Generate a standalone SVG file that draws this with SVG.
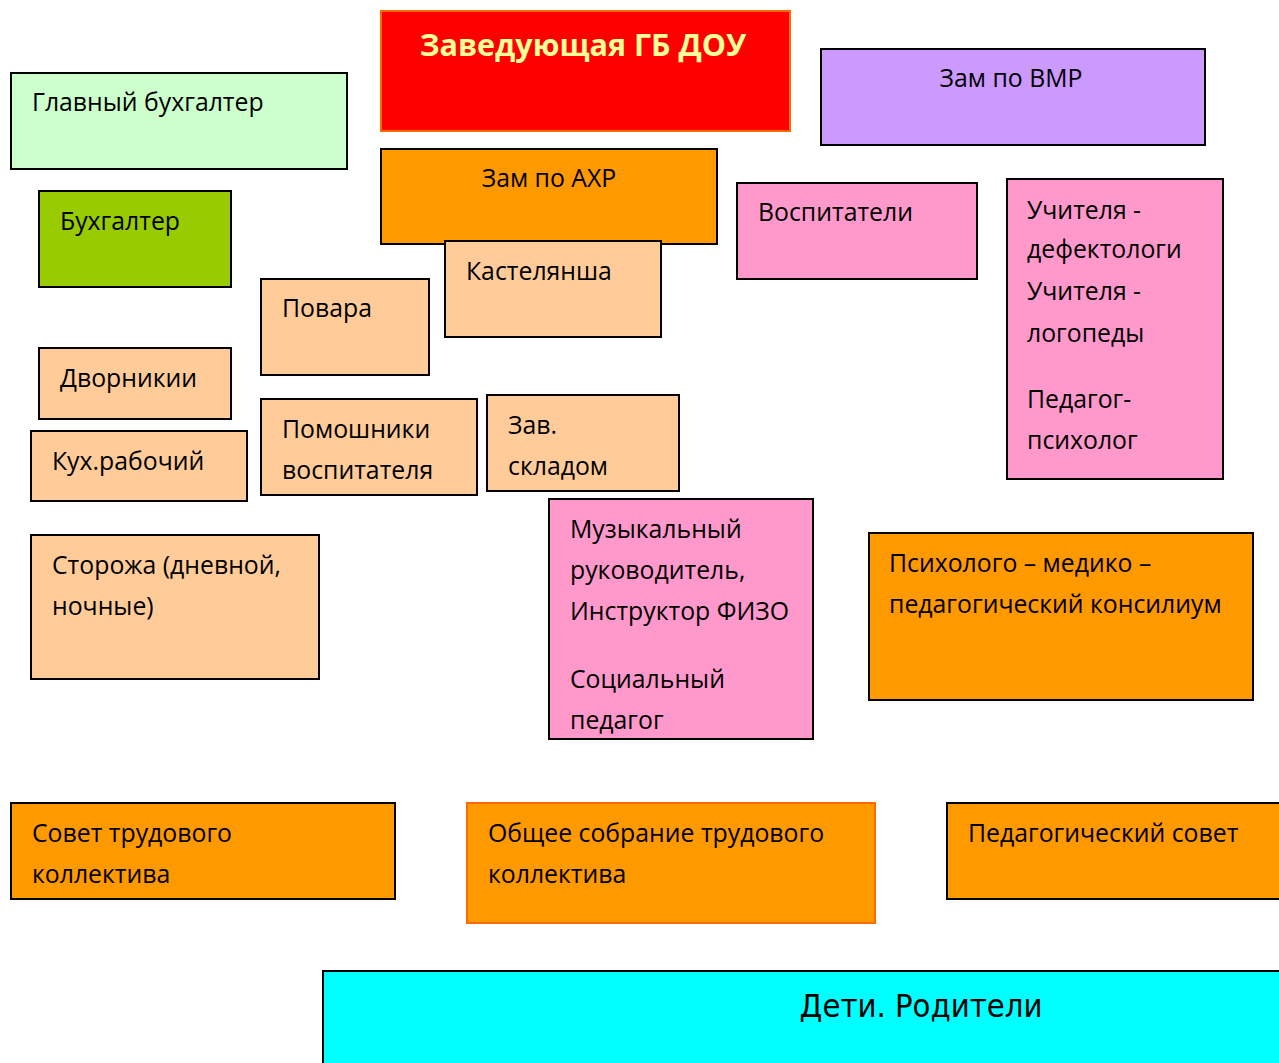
<svg xmlns="http://www.w3.org/2000/svg" width="1279" height="1063" viewBox="0 0 1279 1063">
<style>
rect{stroke:#000;stroke-width:2}
text{font-family:"Open Sans","Noto Sans",sans-serif;font-size:24.8px;fill:#000}
.peach{fill:#ffcc99}
.pink{fill:#ff99cc}
.orange{fill:#ff9900}
</style>
<rect x="0" y="0" width="1279" height="1063" fill="#fff" style="stroke:none"/>
<g id="zav"><rect x="381" y="11" width="409" height="120" fill="#ff0000" style="stroke:#ff6a00"/><text x="583" y="56" text-anchor="middle" style="font-weight:bold;font-size:30.5px;fill:#ffff99">Заведующая ГБ ДОУ</text></g>
<g id="glbuh"><rect x="11" y="73" width="336" height="96" fill="#ccffcc"/><text x="32" y="111">Главный бухгалтер</text></g>
<g id="vmr"><rect x="821" y="49" width="384" height="96" fill="#cc99ff"/><text x="1011" y="87" text-anchor="middle">Зам по ВМР</text></g>
<g id="ahr"><rect x="381" y="149" width="336" height="95" class="orange"/><text x="549" y="187" text-anchor="middle">Зам по АХР</text></g>
<g id="buh"><rect x="39" y="191" width="192" height="96" fill="#99cc00"/><text x="60" y="230">Бухгалтер</text></g>
<g id="vosp"><rect x="737" y="183" width="240" height="96" class="pink"/><text x="758" y="221">Воспитатели</text></g>
<g id="uch"><rect x="1007" y="179" width="216" height="300" class="pink"/><text x="1027" y="219">Учителя -</text><text x="1027" y="258">дефектологи</text><text x="1027" y="300">Учителя -</text><text x="1027" y="342">логопеды</text><text x="1027" y="408">Педагог-</text><text x="1027" y="449">психолог</text></g>
<g id="kast"><rect x="445" y="241" width="216" height="96" class="peach"/><text x="466" y="280">Кастелянша</text></g>
<g id="povar"><rect x="261" y="279" width="168" height="96" class="peach"/><text x="282" y="317">Повара</text></g>
<g id="dvor"><rect x="39" y="348" width="192" height="71" class="peach"/><text x="60" y="387">Дворникии</text></g>
<g id="kuh"><rect x="31" y="431" width="216" height="70" class="peach"/><text x="52" y="470">Кух.рабочий</text></g>
<g id="pom"><rect x="261" y="399" width="216" height="96" class="peach"/><text x="282" y="438">Помошники</text><text x="282" y="479">воспитателя</text></g>
<g id="sklad"><rect x="487" y="395" width="192" height="96" class="peach"/><text x="508" y="434">Зав.</text><text x="508" y="475">складом</text></g>
<g id="stor"><rect x="31" y="535" width="288" height="144" class="peach"/><text x="52" y="574">Сторожа (дневной,</text><text x="52" y="615">ночные)</text></g>
<g id="muz"><rect x="549" y="499" width="264" height="240" class="pink"/><text x="570" y="538">Музыкальный</text><text x="570" y="579">руководитель,</text><text x="570" y="620">Инструктор ФИЗО</text><text x="570" y="688">Социальный</text><text x="570" y="729">педагог</text></g>
<g id="pmpk"><rect x="869" y="533" width="384" height="167" class="orange"/><text x="889" y="572">Психолого – медико –</text><text x="889" y="613">педагогический консилиум</text></g>
<g id="sovet"><rect x="11" y="803" width="384" height="96" class="orange"/><text x="32" y="842">Совет трудового</text><text x="32" y="883">коллектива</text></g>
<g id="obsh"><rect x="467" y="803" width="408" height="120" class="orange" style="stroke:#ff6a00"/><text x="488" y="842">Общее собрание трудового</text><text x="488" y="883">коллектива</text></g>
<g id="pedsov"><rect x="947" y="803" width="340" height="96" class="orange"/><text x="968" y="842">Педагогический совет</text></g>
<g id="deti"><rect x="323" y="971" width="970" height="100" fill="#00ffff"/><text x="921" y="1017" text-anchor="middle" style="font-size:32.5px;font-family:'DejaVu Sans Condensed','Noto Sans',sans-serif">Дети. Родители</text></g>
<g id="connectors"></g>
</svg>
